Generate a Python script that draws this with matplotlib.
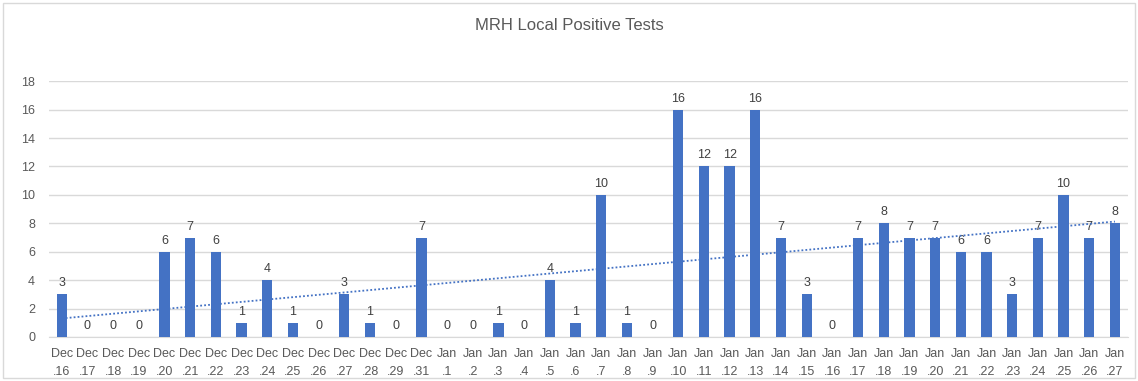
import numpy as np
import matplotlib
matplotlib.use("Agg")
from matplotlib import pyplot as plt

days = ['Dec\n.16', 'Dec\n.17', 'Dec\n.18', 'Dec\n.19', 'Dec\n.20', 'Dec\n.21', 'Dec\n.22',
        'Dec\n.23', 'Dec\n.24', 'Dec\n.25', 'Dec\n.26', 'Dec\n.27', 'Dec\n.28', 'Dec\n.29',
        'Dec\n.31'] + ['Jan\n.%d' % d for d in range(1, 28)]
positives = [3, 0, 0, 0, 6, 7, 6, 1, 4, 1, 0, 3, 1, 0,
             7,
             0, 0, 1, 0, 4, 1, 10, 1, 0,
             16, 12, 12, 16, 7, 3, 0, 7, 8, 7, 7, 6, 6, 3, 7, 10, 7, 8]

plt.rcParams['font.family'] = ['Liberation Sans', 'DejaVu Sans']
text_col = '#595959'
bar_col = '#4472C4'

fig = plt.figure(figsize=(11.38, 3.81), dpi=100)
ax = fig.add_axes([0.043, 0.1155, 0.948, 0.6715])

x = np.arange(len(days))
ax.bar(x, positives, width=0.4, color=bar_col, zorder=3)
for xi, v in zip(x, positives):
    ax.text(xi, v + 0.35, str(v), ha='center', va='bottom', fontsize=9, color='#404040')

# linear trendline
k, b = np.polyfit(x, positives, 1)
ax.plot(x, k * x + b, linestyle=(0, (1, 1.2)), color=bar_col, linewidth=1.3, zorder=4)

ax.set_xlim(-0.5, len(days) - 0.5)
ax.set_ylim(0, 18)
ax.set_yticks(range(0, 19, 2))
ax.set_xticks(x)
ax.set_xticklabels(days, fontsize=9, color=text_col, linespacing=1.6)
ax.tick_params(axis='y', labelsize=9, labelcolor=text_col, length=0, pad=10)
ax.tick_params(axis='x', length=0, pad=8)
ax.grid(axis='y', color='#d9d9d9', linewidth=1, zorder=0)
for s in ['top', 'right', 'left']:
    ax.spines[s].set_visible(False)
ax.spines['bottom'].set_color('#d9d9d9')

fig.text(0.5, 0.932, 'MRH Local Positive Tests', ha='center', va='center', fontsize=12, color=text_col)

# chart border
fig.patches.append(plt.Rectangle((0.003, 0.008), 0.994, 0.984, transform=fig.transFigure,
                                 fill=False, edgecolor='#d9d9d9', linewidth=1))

fig.savefig('out.png', dpi=100)
